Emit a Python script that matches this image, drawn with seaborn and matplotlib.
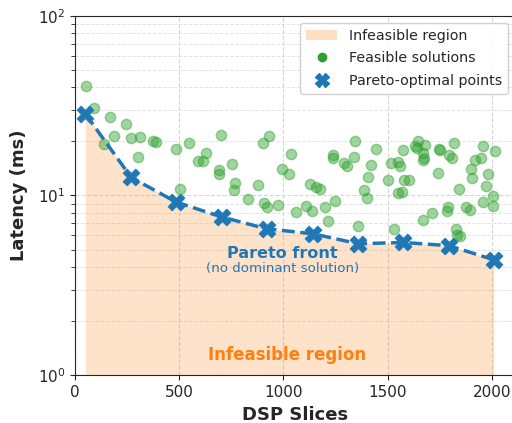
import numpy as np
import pandas as pd
import matplotlib
matplotlib.use("Agg")
import matplotlib.pyplot as plt
import seaborn as sns
from matplotlib.lines import Line2D
from matplotlib.patches import Patch

# ---- data ----
feasible_dsp = [51, 93, 168, 246, 189, 269, 313, 141, 376, 389, 484, 549, 304, 590, 612, 628,
                700, 689, 689, 504, 932, 901, 1036, 752, 1236, 1240, 1344, 1340, 1293, 1304,
                995, 1026, 767, 762, 876, 1128, 1159, 1174, 829, 906, 923, 973, 1061, 1107,
                1139, 1200, 1213, 1248, 1360, 1445, 1419, 1408, 1386, 1402, 1576, 1519, 1548,
                1562, 1504, 1580, 1604, 1552, 1570, 1531, 1648, 1632, 1640, 1681, 1672, 1675,
                1670, 1746, 1753, 1819, 1793, 1810, 1741, 1845, 1715, 1669, 1792, 1787, 1877,
                1896, 1827, 1835, 1848, 1957, 2015, 1948, 1921, 1903, 1907, 1984, 1973, 2005,
                2005, 1957]
feasible_latency = [40.5, 30.7, 27.5, 25.0, 21.5, 20.9, 21.2, 19.4, 20.1, 19.8, 18.2, 19.5, 16.3,
                    15.5, 15.5, 17.3, 21.8, 13.9, 13.2, 10.8, 21.5, 19.5, 17.0, 15.0, 16.9, 16.2,
                    20.0, 16.4, 15.2, 14.6, 14.0, 13.1, 11.8, 10.7, 11.4, 11.6, 11.1, 10.9, 9.57,
                    9.08, 8.63, 8.89, 8.05, 8.77, 8.16, 8.63, 7.18, 9.27, 6.75, 18.2, 14.8, 12.7,
                    10.7, 9.72, 17.8, 15.2, 15.4, 14.6, 12.2, 12.2, 12.2, 10.3, 10.4, 6.51, 20.0,
                    18.8, 18.4, 19.0, 17.2, 16.1, 15.8, 18.1, 17.9, 19.5, 16.8, 16.1, 13.3, 10.8,
                    7.99, 7.33, 8.63, 8.16, 8.63, 8.34, 6.51, 6.05, 5.92, 18.9, 17.7, 16.2, 15.8,
                    14.1, 12.5, 13.2, 11.3, 9.97, 8.77, 9.15]

pareto_dsp = [50, 270, 485, 705, 920, 1140, 1360, 1575, 1795, 2010]
pareto_latency = [28.4, 12.6, 9.2, 7.59, 6.53, 6.13, 5.39, 5.48, 5.26, 4.39]

x_ticks = [0, 500, 1000, 1500, 2000]

feas = pd.DataFrame({"dsp": feasible_dsp, "lat": feasible_latency})
par = pd.DataFrame({"dsp": pareto_dsp, "lat": pareto_latency})

sns.set_style("ticks")
plt.rcParams["font.family"] = ["DejaVu Sans"]

fig = plt.figure(figsize=(5.12, 4.23), dpi=100)
ax = fig.add_axes([75 / 512, (423 - 375.3) / 423, 440 / 512, 359.6 / 423])

c_blue = "#1f77b4"
c_orange = "#ff7f0e"
c_green = "#2ca02c"

ax.fill_between(par["dsp"], par["lat"], 1, color=c_orange, alpha=0.22, linewidth=0, zorder=1)

sns.scatterplot(data=feas, x="dsp", y="lat", ax=ax, color=c_green, alpha=0.45, s=55,
                edgecolor=c_green, linewidth=1, zorder=3, legend=False)

sns.lineplot(data=par, x="dsp", y="lat", ax=ax, color=c_blue, linestyle="--", linewidth=2.5,
             zorder=4, legend=False)
sns.scatterplot(data=par, x="dsp", y="lat", ax=ax, color=c_blue, marker="X", s=150,
                edgecolor=c_blue, linewidth=0.5, zorder=5, legend=False)

ax.set_yscale("log")
ax.set_ylim(1, 100)
ax.set_xlim(0, 2112)
ax.set_xticks(x_ticks)
ax.tick_params(axis="both", labelsize=11)
ax.tick_params(axis="y", which="minor", length=3)

ax.grid(True, which="major", linestyle="--", color="#cccccc", linewidth=0.8, alpha=0.8)
ax.grid(True, which="minor", axis="y", linestyle="--", color="#dddddd", linewidth=0.7, alpha=0.8)
ax.set_axisbelow(True)

ax.set_xlabel("DSP Slices", fontsize=13, fontweight="bold")
ax.set_ylabel("Latency (ms)", fontsize=13, fontweight="bold", labelpad=7)

ax.text(994, 4.75, "Pareto front", color=c_blue, fontsize=11.5, fontweight="bold",
        ha="center", va="center")
ax.text(994, 3.95, "(no dominant solution)", color=c_blue, fontsize=9.6, ha="center", va="center")
ax.text(1018, 1.3, "Infeasible region", color=c_orange, fontsize=12, fontweight="bold",
        ha="center", va="center")

handles = [
    Patch(facecolor=c_orange, alpha=0.25, edgecolor="none", label="Infeasible region"),
    Line2D([], [], marker="o", color=c_green, linestyle="none", markersize=6, label="Feasible solutions"),
    Line2D([], [], marker="X", color=c_blue, linestyle="none", markersize=10, label="Pareto-optimal points"),
]
ax.legend(handles=handles, loc="upper right", fontsize=10.3, framealpha=0.9,
          labelspacing=0.62, handlelength=2.2,
          bbox_to_anchor=(1.0, 1.0), borderaxespad=0.5)

fig.savefig("out.png", dpi=100)
